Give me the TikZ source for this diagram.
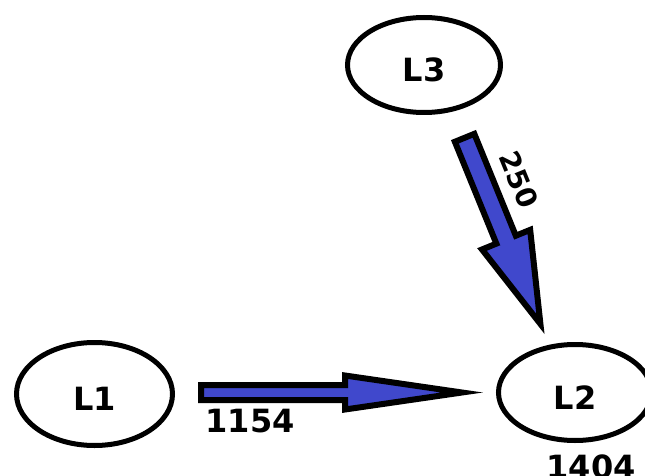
\documentclass[tikz,border=0pt]{standalone}
\usepackage{fontspec}
\setmainfont{DejaVu Sans}
\usetikzlibrary{shapes.geometric,calc}
\definecolor{arrblue}{RGB}{64,72,204}
\tikzset{
  place/.style={ellipse,draw=black,line width=5pt,inner sep=0pt,
    font=\fontsize{32}{38}\selectfont\bfseries,text height=33.3pt,text depth=0pt},
  num/.style={inner sep=0pt,font=\fontsize{32}{38}\selectfont\bfseries},
  barrow/.style={draw=black,fill=arrblue,line width=6pt,line join=miter}
}
% #1 tail, #2 tip, #3 shaft half-width, #4 head-back distance from tail, #5 head half-width
\newcommand\blockarr[5]{%
  \coordinate (hb) at ($(#1)!#4!(#2)$);
  \draw[barrow] ($(#1)!#3!90:(#2)$) -- ($(hb)!#3!90:(#2)$) -- ($(hb)!#5!90:(#2)$)
    -- (#2) -- ($(hb)!#5!-90:(#2)$) -- ($(hb)!#3!-90:(#2)$) -- ($(#1)!#3!-90:(#2)$) -- cycle;}
\begin{document}
\begin{tikzpicture}[x=1pt,y=-1pt]
\useasboundingbox (0,0) rectangle (645,476);
\node[place,minimum width=156pt,minimum height=103pt] (L1) at (94.5,394) {L1};
\node[place,minimum width=153pt,minimum height=96pt] (L2) at (575,392.5) {L2};
\node[place,minimum width=153pt,minimum height=95pt] (L3) at (424,65) {L3};
% connector L1 -> L2
\coordinate (a1) at (201,392.5);
\coordinate (b1) at (462,392.5);
\blockarr{a1}{b1}{7.5pt}{144pt}{17pt}
% connector L3 -> L2
\coordinate (a2) at (464.6,137.8);
\coordinate (b2) at (540.4,323.9);
\blockarr{a2}{b2}{10.5pt}{110pt}{26pt}
\node[num] (w12) at (250,421) {1154};
\node[num,font=\fontsize{28}{33}\selectfont\bfseries,rotate=-67.8] (w32) at (519,180) {250};
\node[num] (t2) at (591,466.8) {1404};
\end{tikzpicture}
\end{document}
